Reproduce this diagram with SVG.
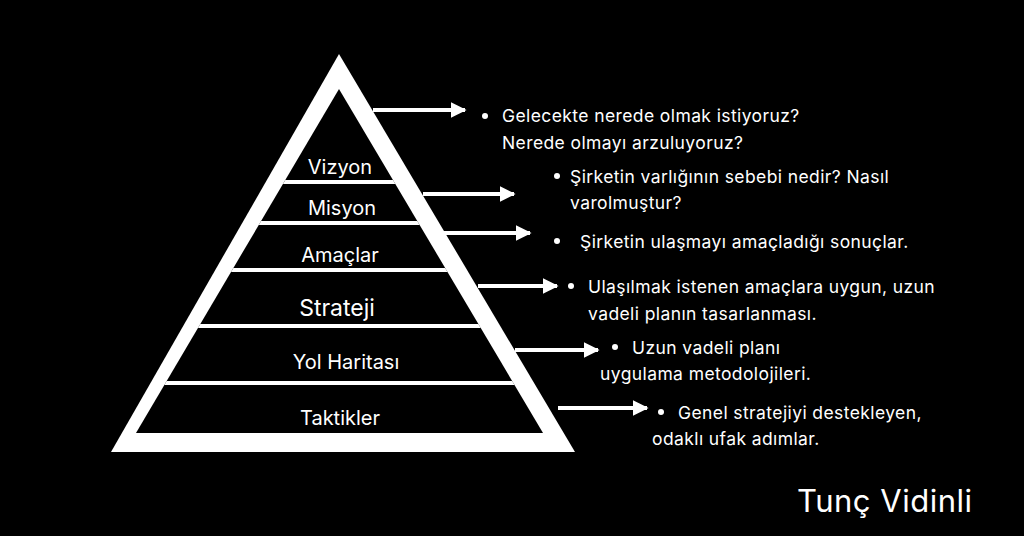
<svg xmlns="http://www.w3.org/2000/svg" width="1024" height="536" viewBox="0 0 1024 536">
<style>
.t{font-family:Inter,"Noto Sans",sans-serif;fill:#fff;font-size:17.5px;letter-spacing:0.4px}
.p{font-family:Inter,"Noto Sans",sans-serif;fill:#fff;font-size:20px;text-anchor:middle}
.c{stroke:#fff;stroke-width:4;fill:none}
.sig{font-family:Inter,"Noto Sans",sans-serif;fill:#fff;font-size:31px;letter-spacing:0.5px}
</style>
<defs>
<clipPath id="inner"><polygon points="339,89 136,433 543,433"/></clipPath>
<marker id="ah" viewBox="0 0 10 10" refX="9" refY="5" markerWidth="4" markerHeight="4.5" orient="auto" markerUnits="strokeWidth"><path d="M0,0 L10,5 L0,10 Z" fill="#fff"/></marker>
</defs>
<rect width="1024" height="536" fill="#000"/>
<g id="pyramid">
<polygon points="339,54 111,452 575,452" fill="#fff"/>
<polygon points="339,89 136,433 543,433" fill="#000"/>
<g clip-path="url(#inner)" stroke="#fff" stroke-width="4">
<line x1="100" y1="182" x2="600" y2="182"/>
<line x1="100" y1="223" x2="600" y2="223"/>
<line x1="100" y1="270" x2="600" y2="270"/>
<line x1="100" y1="326" x2="600" y2="326"/>
<line x1="100" y1="383" x2="600" y2="383"/>
</g>
</g>
<g id="n1"><text class="p" x="340" y="174">Vizyon</text></g>
<g id="n2"><text class="p" x="342" y="215">Misyon</text></g>
<g id="n3"><text class="p" x="340" y="262">Amaçlar</text></g>
<g id="n4"><text class="p" x="337" y="316" style="font-size:23px">Strateji</text></g>
<g id="n5"><text class="p" x="346" y="369">Yol Haritası</text></g>
<g id="n6"><text class="p" x="340" y="425">Taktikler</text></g>
<g id="connectors" class="c">
<line x1="373" y1="110" x2="465" y2="110" marker-end="url(#ah)"/>
<line x1="423" y1="194" x2="514" y2="194" marker-end="url(#ah)"/>
<line x1="444" y1="233" x2="530" y2="233" marker-end="url(#ah)"/>
<line x1="478" y1="286" x2="557" y2="286" marker-end="url(#ah)"/>
<line x1="515" y1="350" x2="598" y2="350" marker-end="url(#ah)"/>
<line x1="558" y1="408" x2="647" y2="408" marker-end="url(#ah)"/>
</g>
<g id="texts" fill="#fff">
<circle cx="485" cy="116" r="3"/><text class="t" x="502" y="122">Gelecekte nerede olmak istiyoruz?</text><text class="t" x="502" y="149">Nerede olmayı arzuluyoruz?</text>
<circle cx="557" cy="176" r="3"/><text class="t" x="570" y="183">Şirketin varlığının sebebi nedir? Nasıl</text><text class="t" x="570" y="209">varolmuştur?</text>
<circle cx="557" cy="241" r="3"/><text class="t" x="580" y="248">Şirketin ulaşmayı amaçladığı sonuçlar.</text>
<circle cx="571" cy="286" r="3"/><text class="t" x="588" y="293">Ulaşılmak istenen amaçlara uygun, uzun</text><text class="t" x="588" y="320">vadeli planın tasarlanması.</text>
<circle cx="615" cy="347" r="3"/><text class="t" x="632" y="354">Uzun vadeli planı</text><text class="t" x="600" y="380">uygulama metodolojileri.</text>
<circle cx="661" cy="412" r="3"/><text class="t" x="678" y="419">Genel stratejiyi destekleyen,</text><text class="t" x="652" y="445">odaklı ufak adımlar.</text>
<text class="sig" x="797" y="512">Tunç Vidinli</text>
</g>
</svg>
